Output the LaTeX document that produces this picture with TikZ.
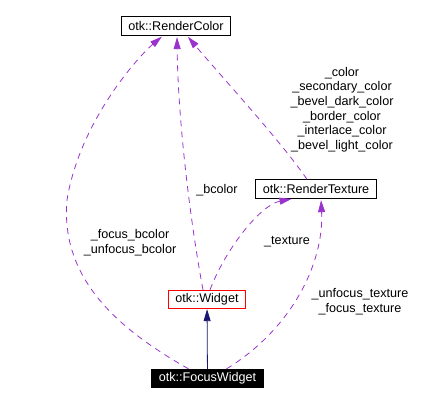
\documentclass[tikz,border=0pt]{standalone}
\usepackage{fontspec}
\setmainfont{Liberation Sans}
\usetikzlibrary{arrows.meta}
\definecolor{orchid}{HTML}{9A32CD}
\definecolor{navy}{HTML}{191970}

\begin{document}
\begin{tikzpicture}[x=1pt,y=-1pt,
	every node/.style={font=\fontsize{12.6}{14.6}\selectfont},
	cls/.style={draw,line width=0.8pt,inner xsep=7pt,inner ysep=0pt,minimum height=18.5pt},
	use/.style={draw=orchid,line width=0.8pt,dash pattern=on 6pt off 5pt,shorten >=1.5pt,
		-{Triangle[length=12pt,width=7pt,fill=orchid]}},
	inh/.style={draw=navy,line width=0.8pt,-{Triangle[length=12pt,width=7pt,fill=navy]}},
	lab/.style={align=center,inner sep=0pt}]
\useasboundingbox (0,0) rectangle (445,406);

\node[cls] (1) at (176,26) {otk::RenderColor};
\node[cls] (2) at (316,189) {otk::RenderTexture};
\node[cls,draw=red] (3) at (207,299.5) {otk::Widget};
\node[cls,fill=black,text=white] (4) at (207.5,378.5) {otk::FocusWidget};

\draw[use]([xshift=-19pt]4.north) .. controls (120,330) and (60,280) .. (67,200)
	.. controls (80,120) and (140,55) .. ([xshift=-13pt]1.south);
\draw[use]([xshift=-4pt]3.north) .. controls (190,220) and (178,120) .. ([xshift=1pt]1.south);
\draw[use]([xshift=-9pt]2.north) .. controls (280,140) and (220,75) .. ([xshift=11pt]1.south);
\draw[use]([xshift=3pt]3.north) .. controls (225,250) and (260,205) .. ([xshift=-23pt]2.south);
\draw[use]([xshift=19pt]4.north) .. controls (290,330) and (324,265) .. ([xshift=5pt]2.south);
\draw[inh](4)--(3);

\foreach \x/\y/\t [count=\i] in {130/242.5/{\_focus\_bcolor\\\_unfocus\_bcolor},
	217/190/{\_bcolor},
	342/109.5/{\_color\\\_secondary\_color\\\_bevel\_dark\_color\\\_border\_color\\\_interlace\_color\\\_bevel\_light\_color},
	287/242/{\_texture},
	360/301.5/{\_unfocus\_texture\\\_focus\_texture}}
	\node[lab] (l\i) at (\x,\y) {\t};

\end{tikzpicture}
\end{document}
